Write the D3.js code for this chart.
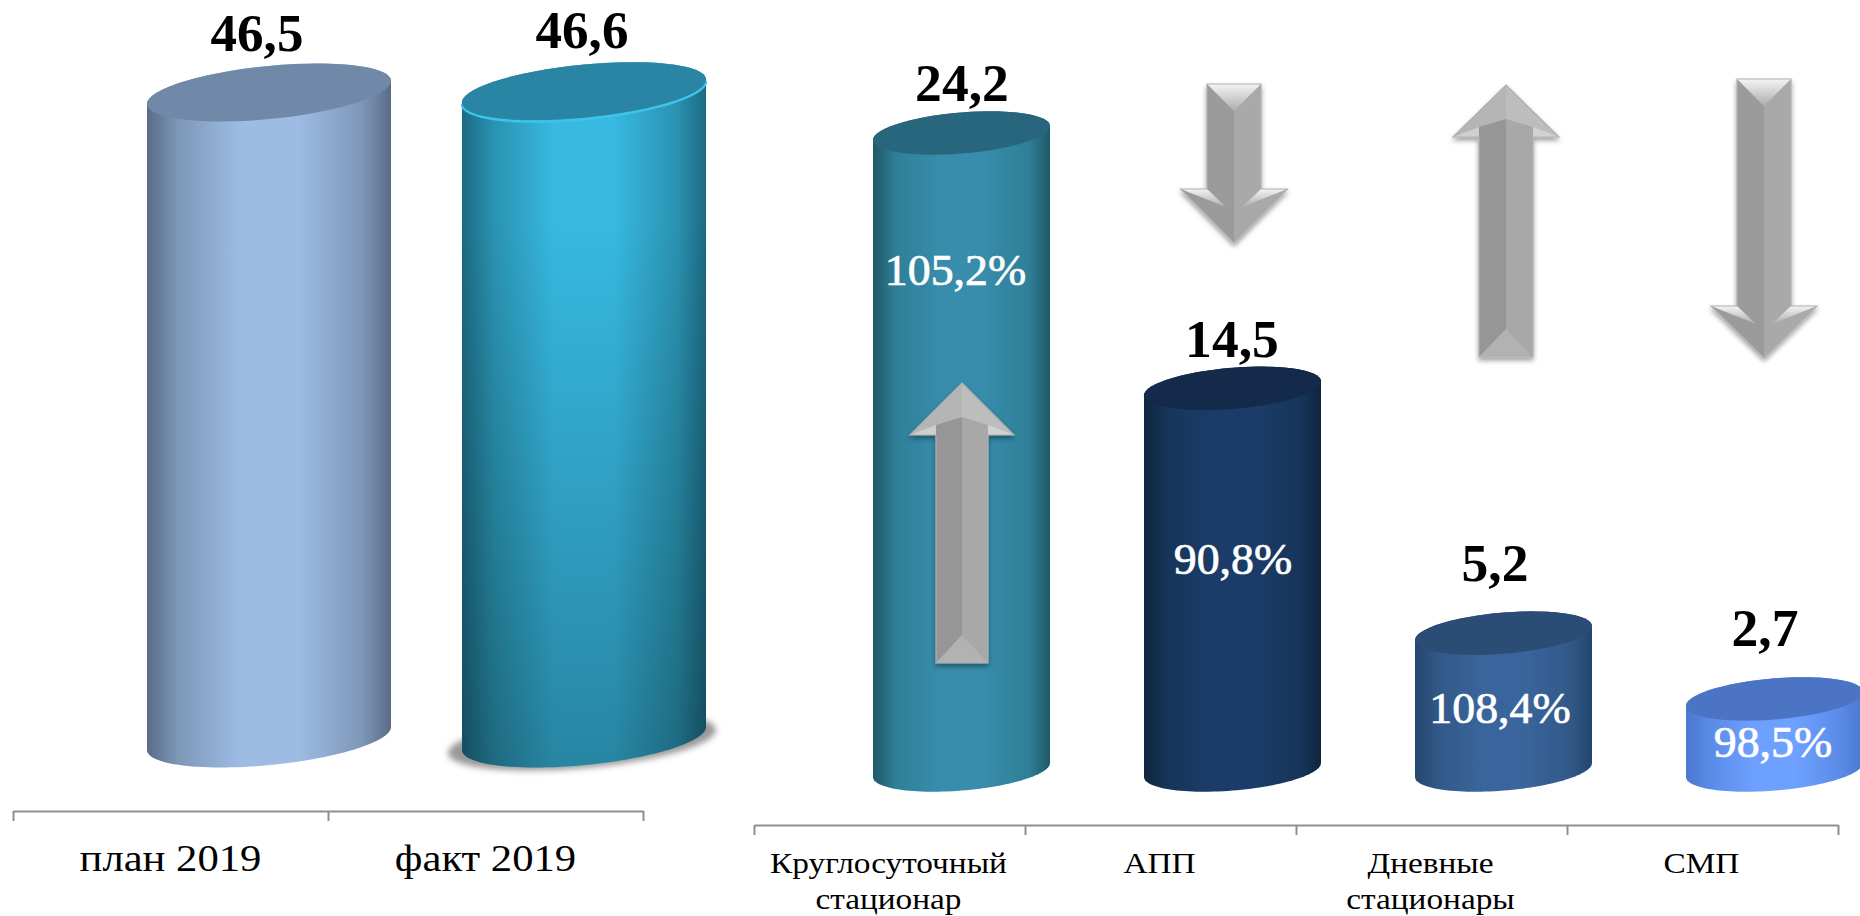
<!DOCTYPE html>
<html><head><meta charset="utf-8">
<script src="https://cdn.jsdelivr.net/npm/d3@7/dist/d3.min.js"></script>
<style>html,body{margin:0;padding:0;background:#fff;overflow:hidden}svg{display:block}text{font-family:"Liberation Serif",serif}</style>
</head><body><svg id="c" width="1860" height="916"></svg>
<script>
// ---- data ----
const leftCategories = ["план 2019", "факт 2019"];
const leftValues = [46.5, 46.6];
const rightCategories = [["Круглосуточный", "стационар"], ["АПП"], ["Дневные", "стационары"], ["СМП"]];
const rightValues = [24.2, 14.5, 5.2, 2.7];
const rightPercents = [105.2, 90.8, 108.4, 98.5];

// ---- styles ----
const leftPalette = [
  {edge0:"#5a6b88", edge1:"#7e98b8", mid:"#9dbbe3", top:"#7189a9"},
  {edge0:"#1c6a82", edge1:"#2a93b1", mid:"#37b9e2", top:"#2a84a3"}
];
const rightPalette = [
  {edge0:"#1f5868", edge1:"#2f7f98", mid:"#378dab", top:"#28667d"},
  {edge0:"#0f2540", edge1:"#173559", mid:"#1b3c68", top:"#132a4a"},
  {edge0:"#24466d", edge1:"#315887", mid:"#3a659c", top:"#2b4c75"},
  {edge0:"#4a78cf", edge1:"#5a8ae6", mid:"#6da0ff", top:"#4c74c4"}
];
const comma = v => d3.format(".1f")(v).replace(".", ",");
const svg = d3.select("#c");
const defs = svg.append("defs");

function hGrad(id, p){
  const g = defs.append("linearGradient").attr("id", id);
  [[0,p.edge0],[.13,p.edge1],[.38,p.mid],[.62,p.mid],[.88,p.edge1],[1,p.edge0]].forEach(s =>
    g.append("stop").attr("offset", s[0]).attr("stop-color", s[1]));
}
const fade = defs.append("linearGradient").attr("id","fade").attr("x2",0).attr("y2",1);
[[0,0],[.22,0],[1,.28]].forEach(s => fade.append("stop").attr("offset",s[0]).attr("stop-color","#000").attr("stop-opacity",s[1]));
const blur = defs.append("filter").attr("id","blur").attr("x","-20%").attr("y","-50%").attr("width","140%").attr("height","200%");
blur.append("feGaussianBlur").attr("stdDeviation",3);
const drop = defs.append("filter").attr("id","drop").attr("x","-30%").attr("y","-10%").attr("width","160%").attr("height","125%");
drop.append("feDropShadow").attr("dx",0).attr("dy",3).attr("stdDeviation",2.5).attr("flood-color","#000").attr("flood-opacity",.38);
const lightTri = defs.append("linearGradient").attr("id","lightTri").attr("x2",0).attr("y2",1);
[[0,"#f4f4f4"],[1,"#adadad"]].forEach(s => lightTri.append("stop").attr("offset",s[0]).attr("stop-color",s[1]));

const lineGen = d3.line();
function ePoint(cx, cy, a, b, tilt, t){
  return [cx + a*Math.cos(t), cy + b*Math.sin(t) - tilt/2*Math.cos(t)];
}
function arc(cx, cy, a, b, tilt, t0, t1){
  return d3.range(0, 61).map(i => ePoint(cx, cy, a, b, tilt, t0 + (t1-t0)*i/60));
}

function cylinder(g, o){
  const {x0, x1, yTop, yBase, b, tilt, id, palette} = o;
  const cx = (x0+x1)/2, a = (x1-x0)/2;
  const cTop = yTop - tilt/2, cBase = yBase - tilt/2;
  const outline = [...arc(cx,cBase,a,b,tilt,Math.PI,0), ...arc(cx,cTop,a,b,tilt,0,-Math.PI)];
  if (o.shadow) {
    g.append("path").attr("d", lineGen(arc(cx-2,cBase+3,a+12,b,tilt,0,2*Math.PI))+"Z")
      .attr("fill","#333").attr("opacity",.5).attr("filter","url(#blur)");
  }
  hGrad(id, palette);
  g.append("path").attr("d", lineGen(outline)+"Z").attr("fill",`url(#${id})`);
  if (o.fadeBottom) g.append("path").attr("d", lineGen(outline)+"Z").attr("fill","url(#fade)");
  if (o.rim) g.append("path").attr("d", lineGen(arc(cx,cTop+1.5,a,b,tilt,Math.PI,0))).attr("fill","none").attr("stroke",o.rim).attr("stroke-width",2.5);
  g.append("path").attr("d", lineGen(arc(cx,cTop,a,b,tilt,0,2*Math.PI))+"Z").attr("fill",palette.top);
}

function tickAxis(yPos, scale, n){
  svg.append("g").attr("transform",`translate(0,${yPos})`)
    .call(d3.axisBottom(scale).tickValues(d3.range(n+1)).tickSize(10).tickSizeOuter(0).tickFormat(""))
    .call(g => { g.selectAll("path").attr("stroke","#8f8f8f").attr("stroke-width",2);
                 g.selectAll("line").attr("stroke","#8f8f8f").attr("stroke-width",2); });
}
// the reference's serif is wider than Liberation Serif: stretch glyphs horizontally
function widen(sel, k){
  sel.each(function(){ const w = this.getComputedTextLength();
    d3.select(this).attr("textLength", w*k).attr("lengthAdjust","spacingAndGlyphs"); });
  return sel;
}

// ---- left panel ----
const lx = d3.scaleBand().domain(leftCategories).range([13,643]);
const lIdx = d3.scaleLinear().domain([0,2]).range([13,643]);
const ly = d3.scaleLinear().domain([0,46.5]).range([750,104]);
const lLeft = [147, 462], lWidth = 244;
const lLabelX = [257, 582], lLabelY = [51, 48];
const lg = svg.append("g");
leftValues.forEach((v,i) => {
  cylinder(lg, {x0:lLeft[i], x1:lLeft[i]+lWidth, yTop:ly(v), yBase:ly(0), b:26.6, tilt:23,
    id:"lc"+i, palette:leftPalette[i], shadow:i===1, fadeBottom:i===1, rim:i===1?"#3cc4ea":null});
  widen(lg.append("text").attr("x",lLabelX[i]).attr("y",lLabelY[i]).attr("text-anchor","middle")
    .attr("font-size",52).attr("font-weight","bold").attr("fill","#000").text(comma(v)), 1.02);
});
tickAxis(811, lIdx, 2);
leftCategories.forEach(c => widen(svg.append("text").attr("x",lx(c)+lx.bandwidth()/2).attr("y",871)
  .attr("text-anchor","middle").attr("font-size",38.5).attr("fill","#000").text(c), 1.108));

// ---- right panel ----
const rBand = d3.scaleBand().domain(d3.range(4)).range([754,1838]);
const rIdx = d3.scaleLinear().domain([0,4]).range([754,1838]);
const ry = d3.scaleLinear().domain([0,24.2]).range([777,140]);
const rWidth = 177, barShift = 72;
const rg = svg.append("g");
const barCenter = i => rBand(i) + rBand.bandwidth()/2 + barShift;
const valueLabelX = [962,1232,1495,1765], valueLabelY = [101,357,581,646];
const pctLabelX = [955.5,1233,1500,1773], pctLabelY = [285,574,723,757];

rightValues.forEach((v,i) => {
  const c = barCenter(i);
  cylinder(rg, {x0:c-rWidth/2, x1:c+rWidth/2, yTop:ry(v), yBase:ry(0), b:20.6, tilt:14, id:"rc"+i, palette:rightPalette[i]});
});

// ---- bevelled arrows (direction follows the percentage) ----
const arrowLayout = [
  {cx:962, top:383, bottom:663, half:26, wing:52, head:52},
  {cx:1234, top:84, bottom:243, half:27, wing:53.5, head:54},
  {cx:1506, top:85, bottom:357, half:27, wing:53, head:52},
  {cx:1764, top:79, bottom:358, half:27, wing:53, head:52}
];
function poly(g, pts, fill){ g.append("path").attr("d", lineGen(pts)+"Z").attr("fill",fill); }
function upArrow(g, A){
  const {cx, top, bottom, half, wing, head} = A, base = top+head;
  const sil = [[cx,top],[cx+wing,base],[cx+half,base],[cx+half,bottom],[cx-half,bottom],[cx-half,base],[cx-wing,base]];
  const a = g.append("g").attr("filter","url(#drop)");
  poly(a, sil, "#a6a6a6");
  poly(a, [[cx,top],[cx+wing,base],[cx,base]], "#bdbdbd");
  poly(a, [[cx,top],[cx-wing,base],[cx,base]], "#b5b5b5");
  poly(a, [[cx-half,base-10],[cx,base-18],[cx,bottom-28],[cx-half,bottom]], "#969696");
  poly(a, [[cx+half,base-10],[cx,base-18],[cx,bottom-28],[cx+half,bottom]], "#a8a8a8");
  poly(a, [[cx-half,bottom],[cx+half,bottom],[cx,bottom-28]], "#b2b2b2");
  poly(a, [[cx-wing,base],[cx-half,base],[cx-half,base-10]], "#cfcfcf");
  poly(a, [[cx+wing,base],[cx+half,base],[cx+half,base-10]], "#d2d2d2");
  a.append("path").attr("d", lineGen(sil)+"Z").attr("fill","none").attr("stroke","#b0b0b0").attr("stroke-width",1.2);
}
function downArrow(g, A){
  const {cx, top, bottom, half, wing, head} = A, base = bottom-head;
  const sil = [[cx-half,top],[cx+half,top],[cx+half,base],[cx+wing,base],[cx,bottom],[cx-wing,base],[cx-half,base]];
  const a = g.append("g").attr("filter","url(#drop)");
  poly(a, sil, "#a6a6a6");
  poly(a, [[cx-half,top],[cx,top+27],[cx,bottom],[cx-wing,base],[cx-half,base]], "#9b9b9b");
  poly(a, [[cx+half,top],[cx,top+27],[cx,bottom],[cx+wing,base],[cx+half,base]], "#a9a9a9");
  poly(a, [[cx-half,top],[cx+half,top],[cx,top+27]], "url(#lightTri)");
  poly(a, [[cx-wing,base],[cx-half,base],[cx-half+19,base+18]], "url(#lightTri)");
  poly(a, [[cx+wing,base],[cx+half,base],[cx+half-19,base+18]], "url(#lightTri)");
  a.append("path").attr("d", lineGen(sil)+"Z").attr("fill","none").attr("stroke","#b0b0b0").attr("stroke-width",1.2);
}
rightPercents.forEach((p,i) => (p >= 100 ? upArrow : downArrow)(rg, arrowLayout[i]));

rightValues.forEach((v,i) => {
  widen(rg.append("text").attr("x",valueLabelX[i]).attr("y",valueLabelY[i]).attr("text-anchor","middle")
    .attr("font-size",52).attr("font-weight","bold").attr("fill","#000").text(comma(v)), 1.03);
  widen(rg.append("text").attr("x",pctLabelX[i]).attr("y",pctLabelY[i]).attr("text-anchor","middle")
    .attr("font-size",45).attr("fill","#fff").attr("stroke","#fff").attr("stroke-width",.7).text(comma(rightPercents[i])+"%"), 1.02);
});

tickAxis(825, rIdx, 4);
rightCategories.forEach((lines,i) => {
  lines.forEach((t,j) => widen(svg.append("text").attr("x",rBand(i)+rBand.bandwidth()/2-1).attr("y",873+36*j)
    .attr("text-anchor","middle").attr("font-size",30).attr("fill","#000").text(t), 1.11));
});
</script></body></html>
